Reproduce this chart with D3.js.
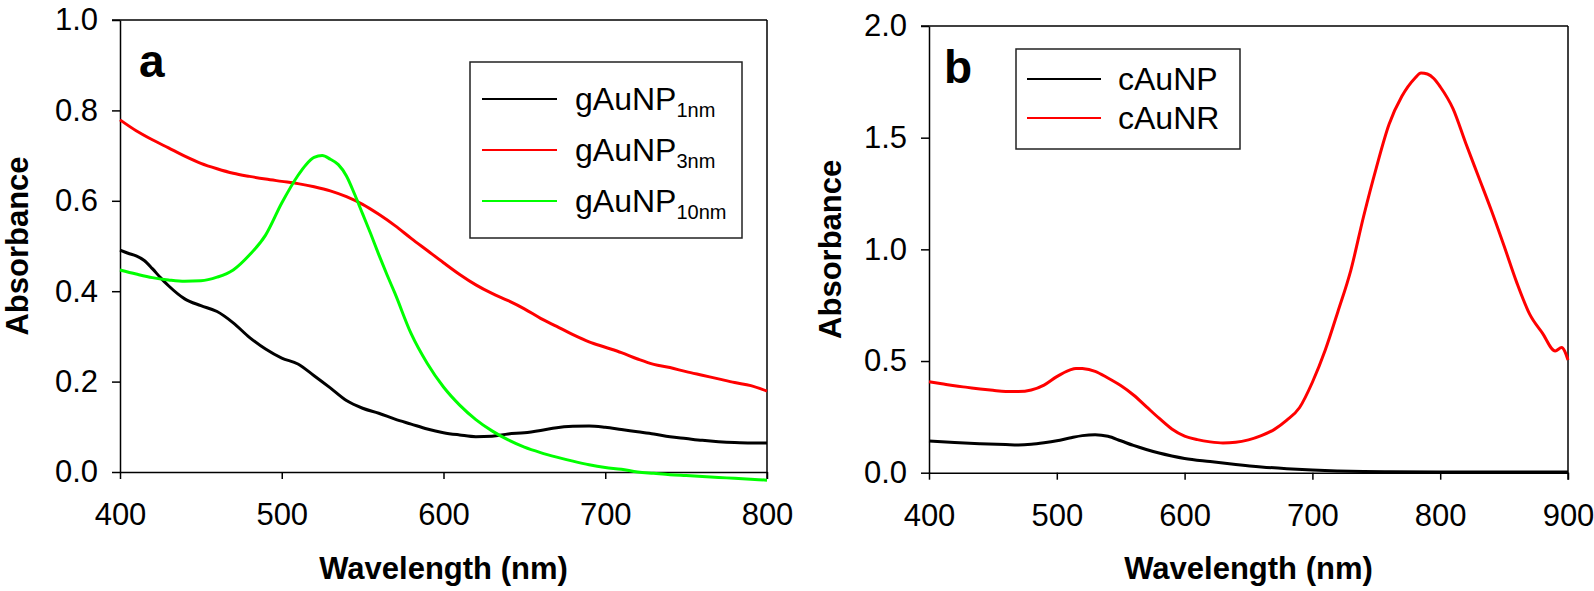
<!DOCTYPE html>
<html>
<head>
<meta charset="utf-8">
<script src="https://cdn.jsdelivr.net/npm/d3@7"></script>
<style>
  html, body { margin: 0; padding: 0; background: #fff; }
  svg { display: block; }
  text { font-family: "Liberation Sans", Arial, sans-serif; fill: #000; }
</style>
</head>
<body>
<svg id="chart" width="1594" height="591"></svg>
<script>
// ---------- Panel a data ----------
const aWave1 = [400,405,410,415,420,425,430,440,450,460,470,480,490,500,510,520,530,540,550,560,570,580,590,600,610,620,630,640,650,660,670,680,690,700,710,720,730,740,750,760,770,780,790,800];
const aNP1nm = [0.491,0.484,0.478,0.468,0.450,0.430,0.412,0.383,0.368,0.355,0.330,0.298,0.272,0.252,0.239,0.213,0.186,0.158,0.141,0.130,0.117,0.106,0.095,0.087,0.082,0.078,0.079,0.084,0.087,0.092,0.098,0.101,0.102,0.099,0.094,0.089,0.084,0.078,0.074,0.070,0.067,0.065,0.064,0.064];

const aWave3 = [400,410,420,430,440,450,460,470,480,490,500,510,520,530,540,550,560,570,580,590,600,610,620,630,640,650,660,670,680,690,700,710,720,730,740,750,760,770,780,790,800];
const aNP3nm = [0.779,0.755,0.735,0.717,0.699,0.683,0.671,0.661,0.654,0.648,0.643,0.638,0.631,0.622,0.609,0.592,0.570,0.545,0.517,0.490,0.463,0.437,0.414,0.395,0.379,0.361,0.340,0.322,0.304,0.288,0.276,0.264,0.250,0.238,0.231,0.222,0.214,0.206,0.198,0.191,0.179];

const aWave10 = [400,410,420,430,440,450,460,470,480,490,500,510,515,520,525,530,535,540,545,550,555,560,565,570,580,590,600,610,620,630,640,650,660,670,680,690,700,710,720,730,740,750,760,770,780,790,800];
const aNP10nm = [0.447,0.438,0.430,0.425,0.422,0.423,0.431,0.447,0.480,0.524,0.595,0.656,0.680,0.696,0.700,0.692,0.680,0.655,0.615,0.571,0.527,0.481,0.437,0.395,0.306,0.240,0.188,0.148,0.116,0.091,0.071,0.055,0.043,0.033,0.024,0.016,0.010,0.006,0.000,-0.003,-0.006,-0.008,-0.010,-0.012,-0.014,-0.016,-0.018];

// ---------- Panel b data ----------
const bWaveNP = [400,420,440,460,470,480,490,500,510,520,530,540,550,560,570,580,590,600,620,640,660,680,700,720,740,760,800,850,900];
const bAuNP = [0.142,0.135,0.130,0.126,0.124,0.127,0.134,0.143,0.155,0.166,0.170,0.163,0.143,0.122,0.104,0.088,0.075,0.064,0.050,0.037,0.026,0.018,0.012,0.008,0.005,0.004,0.003,0.003,0.003];

const bWaveNR = [400,410,420,430,440,450,460,470,480,490,500,510,515,520,530,540,550,560,570,580,590,600,610,620,630,640,650,660,670,680,690,700,710,720,730,740,750,760,770,780,785,790,795,800,810,820,830,840,850,860,870,880,890,895,900];
const bAuNR = [0.407,0.398,0.389,0.382,0.375,0.369,0.364,0.363,0.370,0.392,0.430,0.459,0.467,0.466,0.454,0.424,0.390,0.348,0.296,0.244,0.196,0.164,0.148,0.138,0.133,0.136,0.147,0.166,0.193,0.235,0.292,0.405,0.548,0.722,0.905,1.146,1.365,1.560,1.685,1.765,1.790,1.785,1.765,1.728,1.630,1.475,1.325,1.175,1.015,0.850,0.710,0.625,0.545,0.560,0.505];

// ---------- Tick labels ----------
const aXTicks = [400,500,600,700,800];
const aYTicks = [0.0,0.2,0.4,0.6,0.8,1.0];
const bXTicks = [400,500,600,700,800,900];
const bYTicks = [0.0,0.5,1.0,1.5,2.0];

const svg = d3.select("#chart");
const FONT = '"Liberation Sans", Arial, sans-serif';

function panel(opts) {
  const g = svg.append("g");
  const x = d3.scaleLinear().domain(opts.xDomain).range([opts.left, opts.right]);
  const y = d3.scaleLinear().domain(opts.yDomain).range([opts.bottom, opts.top]);

  // frame top and right
  g.append("line").attr("x1", opts.left - 8).attr("x2", opts.right).attr("y1", opts.top).attr("y2", opts.top)
    .attr("stroke", "#000").attr("stroke-width", 1.5);
  g.append("line").attr("x1", opts.right).attr("x2", opts.right).attr("y1", opts.top).attr("y2", opts.bottom + 7)
    .attr("stroke", "#000").attr("stroke-width", 1.5);

  const xAxis = d3.axisBottom(x).tickValues(opts.xTicks).tickSizeInner(7).tickSizeOuter(0).tickPadding(24)
    .tickFormat(d3.format("d"));
  const yAxis = d3.axisLeft(y).tickValues(opts.yTicks).tickSizeInner(8).tickSizeOuter(0).tickPadding(14)
    .tickFormat(d3.format(".1f"));

  const gx = g.append("g").attr("transform", `translate(0,${opts.bottom})`).call(xAxis);
  const gy = g.append("g").attr("transform", `translate(${opts.left},0)`).call(yAxis);
  [gx, gy].forEach(ax => {
    ax.selectAll("path.domain").attr("stroke", "#000").attr("stroke-width", 1.5);
    ax.selectAll(".tick line").attr("stroke", "#000").attr("stroke-width", 1.5);
    ax.selectAll(".tick text").attr("font-size", 31).attr("font-family", FONT).attr("fill", "#000");
  });

  // series
  const line = d3.line().curve(d3.curveMonotoneX).x(d => x(d[0])).y(d => y(d[1]));
  opts.series.forEach(s => {
    const pts = s.x.map((v, i) => [v, s.y[i]]);
    g.append("path").datum(pts).attr("d", line).attr("fill", "none")
      .attr("stroke", s.color).attr("stroke-width", 3).attr("stroke-linejoin", "round");
  });

  // axis titles
  g.append("text").attr("x", (opts.left + opts.right) / 2).attr("y", 579)
    .attr("text-anchor", "middle").attr("font-weight", "bold").attr("font-size", 31)
    .text("Wavelength (nm)");
  g.append("text").attr("transform", `translate(${opts.yTitleX},${(opts.top + opts.bottom) / 2}) rotate(-90)`)
    .attr("text-anchor", "middle").attr("font-weight", "bold").attr("font-size", 31)
    .text("Absorbance");

  // panel letter
  g.append("text").attr("x", opts.letterX).attr("y", opts.letterY)
    .attr("font-weight", "bold").attr("font-size", 46).text(opts.letter);

  // legend
  const L = opts.legend;
  g.append("rect").attr("x", L.x0).attr("y", L.y0).attr("width", L.x1 - L.x0).attr("height", L.y1 - L.y0)
    .attr("fill", "#fff").attr("stroke", "#222").attr("stroke-width", 1.5);
  opts.series.forEach((s, i) => {
    const ly = L.rows[i];
    g.append("line").attr("x1", L.lx0).attr("x2", L.lx1).attr("y1", ly).attr("y2", ly)
      .attr("stroke", s.color).attr("stroke-width", 2);
    const t = g.append("text").attr("x", L.tx).attr("y", ly + 11).attr("font-size", 32);
    t.append("tspan").text(s.name);
    if (s.sub) t.append("tspan").attr("font-size", 20).attr("dy", 7).text(s.sub);
  });
}

panel({
  left: 120, right: 767, top: 20, bottom: 472,
  xDomain: [400, 800], yDomain: [0, 1.0],
  xTicks: aXTicks, yTicks: aYTicks,
  yTitleX: 28, letter: "a", letterX: 139, letterY: 77,
  series: [
    {name: "gAuNP", sub: "1nm", color: "#000000", x: aWave1, y: aNP1nm},
    {name: "gAuNP", sub: "3nm", color: "#ff0000", x: aWave3, y: aNP3nm},
    {name: "gAuNP", sub: "10nm", color: "#00ff00", x: aWave10, y: aNP10nm}
  ],
  legend: {x0: 470, x1: 742, y0: 62, y1: 238, lx0: 482, lx1: 557, tx: 575, rows: [99, 150, 201]}
});

panel({
  left: 929, right: 1568, top: 26, bottom: 472.7,
  xDomain: [400, 900], yDomain: [0, 2.0],
  xTicks: bXTicks, yTicks: bYTicks,
  yTitleX: 841, letter: "b", letterX: 944, letterY: 83,
  series: [
    {name: "cAuNP", color: "#000000", x: bWaveNP, y: bAuNP},
    {name: "cAuNR", color: "#ff0000", x: bWaveNR, y: bAuNR}
  ],
  legend: {x0: 1016, x1: 1240, y0: 49, y1: 149, lx0: 1027, lx1: 1101, tx: 1118, rows: [79, 118]}
});
</script>
</body>
</html>
